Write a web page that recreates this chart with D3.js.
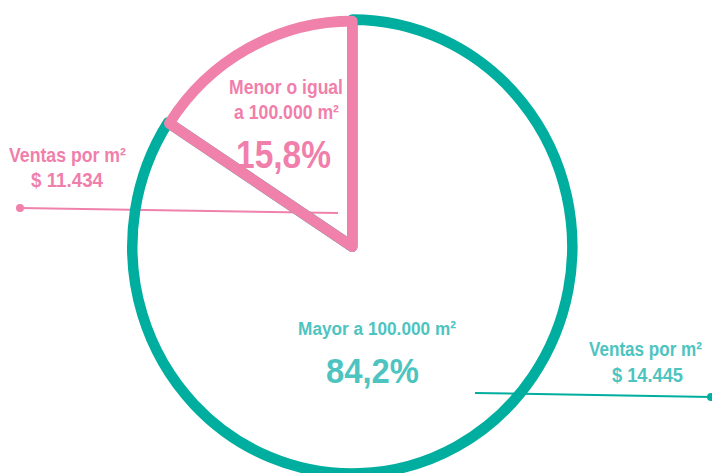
<!DOCTYPE html>
<html>
<head>
<meta charset="utf-8">
<script src="https://cdn.jsdelivr.net/npm/d3@7"></script>
<style>
  html, body { margin: 0; padding: 0; background: #ffffff; }
  svg { display: block; }
  text { font-family: "Liberation Sans", "Arial", sans-serif; font-weight: bold; }
</style>
</head>
<body>
<svg id="chart" width="712" height="473"></svg>
<script>
// ---- data ----
const categories = ["Mayor a 100.000 m²", "Menor o igual|a 100.000 m²"];
const shares = [84.2, 15.8];
const salesPerM2 = [14445, 11434];
const salesLabel = "Ventas por m²";

// ---- styles ----
const strokeColors = ["#00ae9f", "#f081ab"];
const textColors = ["#4ec4c1", "#f07fab"];

const W = 712, H = 473;
const svg = d3.select("#chart");
const cx = 352.3, cy = 246.6, R = 220;

const fmtPct = v => d3.format(".1f")(v).replace(".", ",") + "%";
const fmtMoney = v => "$ " + d3.format(",")(v).replace(/,/g, ".");

const pie = d3.pie().sort(null).value(d => d)(shares);

// leader lines (behind the pie outline)
const leaders = [
  { x1: 475, y1: 393, x2: 711, y2: 397 },
  { x1: 338, y1: 213, x2: 20, y2: 208 }
];
leaders.forEach((l, i) => {
  svg.append("line")
    .attr("x1", l.x1).attr("y1", l.y1).attr("x2", l.x2).attr("y2", l.y2)
    .attr("stroke", strokeColors[i]).attr("stroke-width", 2);
  svg.append("circle")
    .attr("cx", l.x2).attr("cy", l.y2).attr("r", 4)
    .attr("fill", strokeColors[i]);
});

const g = svg.append("g").attr("transform", `translate(${cx},${cy}) scale(1,1.032)`);
const radii = [R, R - 1.5];
pie.forEach((d, i) => {
  const arc = d3.arc().innerRadius(0).outerRadius(radii[i]);
  g.append("path")
    .attr("d", arc(d))
    .attr("fill", "none")
    .attr("stroke", strokeColors[i])
    .attr("stroke-width", 10.5)
    .attr("stroke-linejoin", "round");
});

// labels (condensed look via horizontal scaling)
function addText(x, y, txt, size, color, len) {
  const t = svg.append("text")
    .attr("text-anchor", "middle")
    .attr("font-size", size)
    .attr("fill", color)
    .text(txt);
  const natural = t.node().getComputedTextLength();
  const sx = len / natural;
  t.attr("transform", `translate(${x},${y}) scale(${sx},1)`);
}
// big slice
addText(377, 335, categories[0], 19, textColors[0], 158);
addText(372.5, 383, fmtPct(shares[0]), 35, textColors[0], 93);
addText(645.5, 356, salesLabel, 21, textColors[0], 113);
addText(647.5, 382, fmtMoney(salesPerM2[0]), 21, textColors[0], 71);
// small slice
const smallLines = categories[1].split("|");
addText(286, 94, smallLines[0], 21, textColors[1], 114);
addText(286.5, 119, smallLines[1], 21, textColors[1], 105);
addText(283.5, 168, fmtPct(shares[1]), 39, textColors[1], 95);
addText(67.5, 162, salesLabel, 21, textColors[1], 117);
addText(67, 187, fmtMoney(salesPerM2[1]), 21, textColors[1], 72);
</script>
</body>
</html>
